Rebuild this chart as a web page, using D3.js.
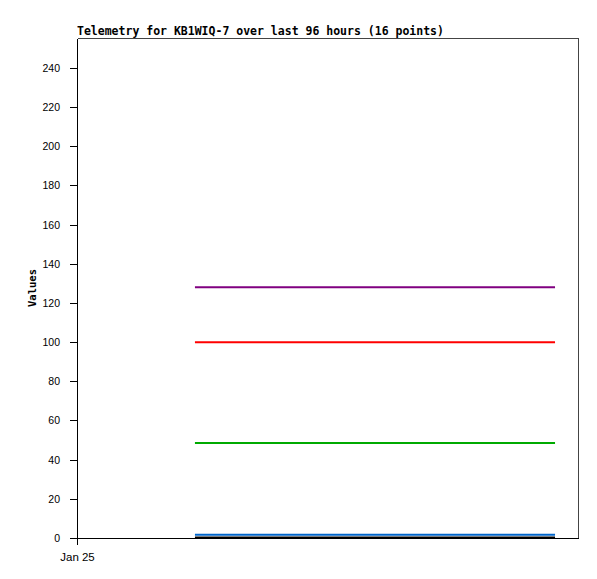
<!DOCTYPE html>
<html>
<head>
<meta charset="utf-8">
<script src="https://cdn.jsdelivr.net/npm/d3@7/dist/d3.min.js"></script>
<style>
  body { margin: 0; background: #fff; }
  svg { display: block; }
  .tick text { font-family: "Liberation Sans", Arial, sans-serif; font-size: 10.5px; fill: #000; }
  .x-axis .tick text { font-size: 11.5px; }
</style>
</head>
<body>
<div id="chart"></div>
<script>
// hours after Jan 25 00:00 for each of the 16 telemetry points
var hours = [22.6, 27.2, 31.8, 36.4, 41.0, 45.6, 50.2, 54.8, 59.4, 64.0, 68.6, 73.2, 77.8, 82.4, 87.0, 91.6];

// one flat value per channel (all 16 points read the same)
var seriesNames = ['A1', 'A2', 'A3', 'A4', 'A5'];
var seriesValues = [
  [128, 128, 128, 128, 128, 128, 128, 128, 128, 128, 128, 128, 128, 128, 128, 128],
  [100, 100, 100, 100, 100, 100, 100, 100, 100, 100, 100, 100, 100, 100, 100, 100],
  [48.5, 48.5, 48.5, 48.5, 48.5, 48.5, 48.5, 48.5, 48.5, 48.5, 48.5, 48.5, 48.5, 48.5, 48.5, 48.5],
  [1.6, 1.6, 1.6, 1.6, 1.6, 1.6, 1.6, 1.6, 1.6, 1.6, 1.6, 1.6, 1.6, 1.6, 1.6, 1.6],
  [0.2, 0.2, 0.2, 0.2, 0.2, 0.2, 0.2, 0.2, 0.2, 0.2, 0.2, 0.2, 0.2, 0.2, 0.2, 0.2]
];
var seriesColors = ['#800080', '#ff0000', '#00aa00', '#0066cc', '#000000'];

var yTicks = [0, 20, 40, 60, 80, 100, 120, 140, 160, 180, 200, 220, 240];
var xTickLabels = ['Jan 25'];

var width = 597, height = 579;
var margin = {top: 38, right: 19, bottom: 41, left: 77};
var innerW = width - margin.left - margin.right;
var innerH = height - margin.top - margin.bottom;

var t0 = new Date(2024, 0, 25, 0, 0);
function hoursToDate(h) { return new Date(t0.getTime() + h * 3600 * 1000); }

var x = d3.scaleTime()
  .domain([t0, hoursToDate(96)])
  .range([0, innerW]);

var y = d3.scaleLinear()
  .domain([0, 255.3])
  .range([innerH, 0]);

var svg = d3.select('#chart').append('svg')
  .attr('width', width)
  .attr('height', height);

svg.append('text')
  .attr('x', margin.left)
  .attr('y', 35)
  .style('font-family', '"DejaVu Sans Mono", monospace')
  .style('font-weight', 'bold')
  .style('font-size', '11.5px')
  .text('Telemetry for KB1WIQ-7 over last 96 hours (16 points)');

var g = svg.append('g')
  .attr('transform', `translate(${margin.left},${margin.top})`);

// top and right border
g.append('path')
  .attr('d', `M0.5,0.5H${innerW + 0.5}V${innerH}`)
  .attr('fill', 'none')
  .attr('stroke', '#444')
  .attr('shape-rendering', 'crispEdges');

var line = d3.line()
  .x(function(d, i) { return x(hoursToDate(hours[i])); })
  .y(function(d) { return y(d); });

g.selectAll('.series')
  .data(seriesValues)
  .enter()
  .append('path')
  .attr('class', 'series')
  .attr('d', line)
  .attr('fill', 'none')
  .attr('stroke', function(d, i) { return seriesColors[i]; })
  .attr('stroke-width', 2);

var yAxis = g.append('g')
  .attr('class', 'y-axis')
  .call(d3.axisLeft(y).tickValues(yTicks).tickSize(7).tickPadding(10).tickSizeOuter(0));

var xAxis = g.append('g')
  .attr('class', 'x-axis')
  .attr('transform', `translate(0,${innerH})`)
  .call(d3.axisBottom(x).tickValues([t0]).tickFormat(function(d, i) { return xTickLabels[i]; })
    .tickSize(7).tickPadding(8).tickSizeOuter(0));

[yAxis, xAxis].forEach(function(a) {
  a.select('.domain').attr('stroke', '#000').attr('shape-rendering', 'crispEdges');
  a.selectAll('.tick line').attr('stroke', '#000').attr('shape-rendering', 'crispEdges');
});

svg.append('text')
  .attr('transform', `translate(36,${margin.top + innerH / 2}) rotate(-90)`)
  .attr('text-anchor', 'middle')
  .style('font-family', '"DejaVu Sans Mono", monospace')
  .style('font-weight', 'bold')
  .style('font-size', '10.5px')
  .text('Values');
</script>
</body>
</html>
